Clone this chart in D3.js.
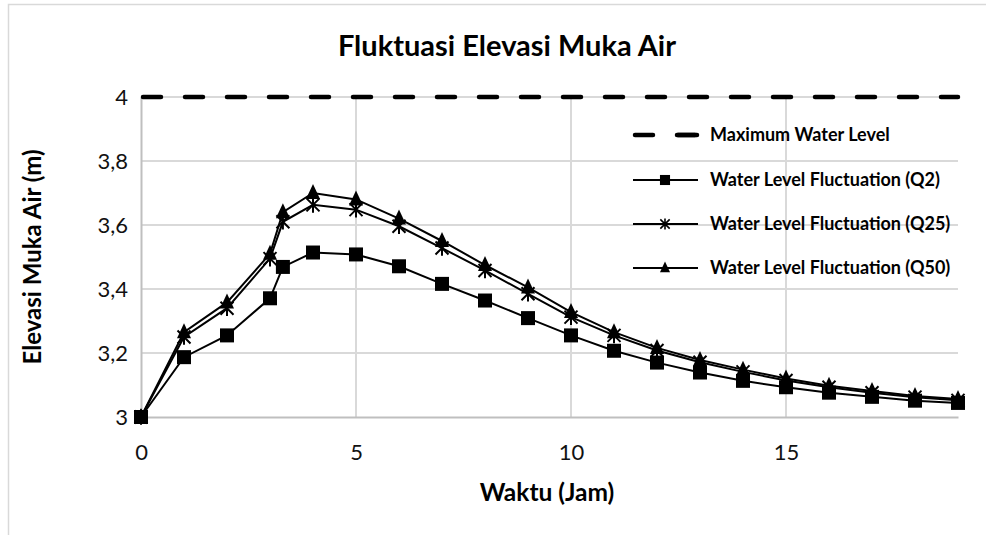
<!DOCTYPE html>
<html>
<head>
<meta charset="utf-8">
<script src="https://cdn.jsdelivr.net/npm/d3@7"></script>
<style>
  body { margin: 0; background: #fff; }
  svg { display: block; font-family: Lato, "Open Sans", sans-serif; }
</style>
</head>
<body>
<svg id="chart" width="986" height="535"></svg>
<script>
// hours since start
var time = [0, 1, 2, 3, 3.3, 4, 5, 6, 7, 8, 9, 10, 11, 12, 13, 14, 15, 16, 17, 18, 19];

// water level (m) for each discharge
var levelQ2  = [3.000, 3.187, 3.255, 3.371, 3.469, 3.514, 3.508, 3.471, 3.416, 3.364, 3.309, 3.255, 3.207, 3.170, 3.139, 3.113, 3.093, 3.076, 3.063, 3.051, 3.044];
var levelQ25 = [3.000, 3.250, 3.340, 3.495, 3.610, 3.663, 3.648, 3.596, 3.528, 3.458, 3.385, 3.312, 3.255, 3.208, 3.171, 3.141, 3.114, 3.093, 3.076, 3.062, 3.052];
var levelQ50 = [3.000, 3.265, 3.358, 3.510, 3.640, 3.700, 3.680, 3.620, 3.550, 3.475, 3.405, 3.328, 3.265, 3.216, 3.178, 3.148, 3.120, 3.098, 3.081, 3.066, 3.056];

var maxTime = [0, 19];
var maxLevel = [4, 4];

var xTicks = [0, 5, 10, 15];
var yTicks = [3, 3.2, 3.4, 3.6, 3.8, 4];

var seriesNames = ["Water Level Fluctuation (Q2)", "Water Level Fluctuation (Q25)", "Water Level Fluctuation (Q50)"];
var maxName = "Maximum Water Level";

var svg = d3.select("#chart");

// chart area border (runs off the picture right and bottom)
svg.append("rect")
    .attr("x", 8.5).attr("y", 4.5)
    .attr("width", 1100).attr("height", 600)
    .attr("fill", "none")
    .attr("stroke", "#d9d9d9")
    .attr("stroke-width", 1.5);

var x = d3.scaleLinear().domain([0, 19]).range([141, 958]);
var y = d3.scaleLinear().domain([3, 4]).range([417, 97]);

// gridlines
var grid = svg.append("g");
grid.selectAll(".hg")
    .data(yTicks.filter(function (d) { return d > 3; }))
    .enter().append("line")
    .attr("x1", x(0)).attr("x2", x(19))
    .attr("y1", function (d) { return y(d); })
    .attr("y2", function (d) { return y(d); })
    .attr("stroke", "#d9d9d9").attr("stroke-width", 2);
grid.selectAll(".vg")
    .data(xTicks.filter(function (d) { return d > 0; }))
    .enter().append("line")
    .attr("y1", y(3)).attr("y2", y(4))
    .attr("x1", function (d) { return x(d); })
    .attr("x2", function (d) { return x(d); })
    .attr("stroke", "#d9d9d9").attr("stroke-width", 2);

// axes
var xAxis = d3.axisBottom(x).tickValues(xTicks).tickSize(0).tickPadding(27)
    .tickFormat(d3.format("d"));
var yAxis = d3.axisLeft(y).tickValues(yTicks).tickSize(0).tickPadding(13)
    .tickFormat(function (d) { return d === 3 || d === 4 ? String(d) : d.toFixed(1).replace(".", ","); });

var gx = svg.append("g").attr("transform", "translate(0," + y(3) + ")").call(xAxis);
var gy = svg.append("g").attr("transform", "translate(" + x(0) + ",0)").call(yAxis);
[gx, gy].forEach(function (g) {
    g.select(".domain").attr("stroke", "#bfbfbf").attr("stroke-width", 2);
    g.selectAll("text").attr("font-size", 22).attr("fill", "#111")
        .attr("font-family", "Lato, sans-serif");
});

// maximum level dashed line
svg.append("path")
    .datum(maxTime.map(function (t, i) { return [t, maxLevel[i]]; }))
    .attr("d", d3.line().x(function (d) { return x(d[0]); }).y(function (d) { return y(d[1]); }))
    .attr("fill", "none")
    .attr("stroke", "#000")
    .attr("stroke-width", 4.5)
    .attr("stroke-linecap", "round")
    .attr("stroke-dasharray", "18,24")
    .attr("stroke-dashoffset", -2);

var allSeries = [levelQ2, levelQ25, levelQ50];
var line = d3.line().x(function (d) { return x(d[0]); }).y(function (d) { return y(d[1]); });

function drawMarker(g, k, cx, cy, scale) {
    if (k === 0) {
        var s = 14 * scale;
        g.append("rect").attr("x", cx - s / 2).attr("y", cy - s / 2)
            .attr("width", s).attr("height", s).attr("fill", "#000");
    } else if (k === 1) {
        // star: x plus a vertical bar
        var r = 6.5 * scale;
        g.append("path")
            .attr("d", "M" + (cx - r) + "," + (cy - r) + "L" + (cx + r) + "," + (cy + r) +
                "M" + (cx - r) + "," + (cy + r) + "L" + (cx + r) + "," + (cy - r) +
                "M" + cx + "," + (cy - r * 1.2) + "L" + cx + "," + (cy + r * 1.2))
            .attr("stroke", "#000").attr("stroke-width", 2 * Math.max(scale, 0.8)).attr("fill", "none");
    } else {
        var h = 15 * scale, w = 14 * scale;
        g.append("path")
            .attr("d", "M" + cx + "," + (cy - h * 0.6) + "L" + (cx + w / 2) + "," + (cy + h * 0.4) +
                "L" + (cx - w / 2) + "," + (cy + h * 0.4) + "Z")
            .attr("fill", "#000");
    }
}

allSeries.forEach(function (vals, k) {
    var pts = time.map(function (t, i) { return [t, vals[i]]; });
    var g = svg.append("g");
    g.append("path").datum(pts)
        .attr("d", line)
        .attr("fill", "none")
        .attr("stroke", "#000")
        .attr("stroke-width", 2);
    pts.forEach(function (p) { drawMarker(g, k, x(p[0]), y(p[1]), 1); });
});

// legend
var leg = svg.append("g").attr("font-family", "Lato, sans-serif").attr("font-weight", "bold")
    .attr("font-size", 18);
var legY = [135, 180, 224, 268];
leg.append("line").attr("x1", 635).attr("x2", 697).attr("y1", legY[0]).attr("y2", legY[0])
    .attr("stroke", "#000").attr("stroke-width", 4.5).attr("stroke-linecap", "round")
    .attr("stroke-dasharray", "18,24");
leg.append("line").attr("x1", 678).attr("x2", 697).attr("y1", legY[0]).attr("y2", legY[0])
    .attr("stroke", "#000").attr("stroke-width", 4.5).attr("stroke-linecap", "round");
leg.append("text").attr("x", 710).attr("y", legY[0]).attr("dy", "0.35em").text(maxName);
seriesNames.forEach(function (name, k) {
    var yy = legY[k + 1];
    leg.append("line").attr("x1", 633).attr("x2", 698).attr("y1", yy).attr("y2", yy)
        .attr("stroke", "#000").attr("stroke-width", 1.8);
    drawMarker(leg, k, 665, yy, 0.72);
    leg.append("text").attr("x", 710).attr("y", yy).attr("dy", "0.35em").text(name);
});

// titles
svg.append("text").attr("x", 507).attr("y", 56).attr("text-anchor", "middle")
    .attr("font-size", 29).attr("font-weight", "bold").attr("fill", "#000")
    .text("Fluktuasi Elevasi Muka Air");
svg.append("text").attr("x", 547).attr("y", 501).attr("text-anchor", "middle")
    .attr("font-size", 24.5).attr("font-weight", "bold").attr("fill", "#000")
    .text("Waktu (Jam)");
svg.append("text").attr("transform", "translate(41,257) rotate(-90)").attr("text-anchor", "middle")
    .attr("font-size", 24).attr("font-weight", "bold").attr("fill", "#000")
    .text("Elevasi Muka Air (m)");
</script>
</body>
</html>
